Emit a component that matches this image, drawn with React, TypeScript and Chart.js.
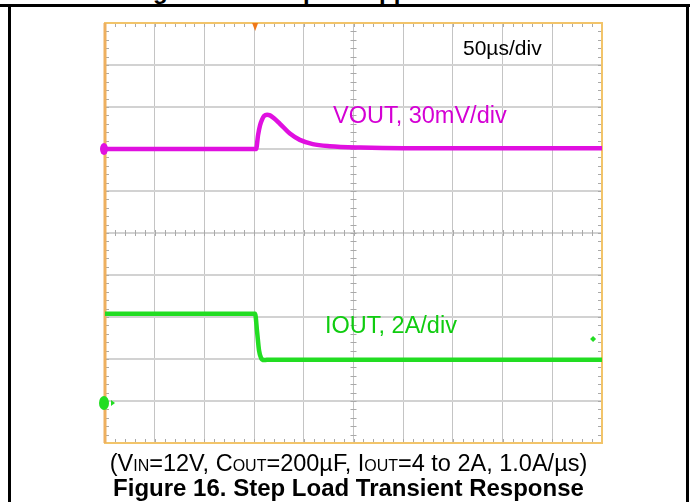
import React, { useEffect, useRef } from "react";
import { Chart, registerables } from "chart.js";

Chart.register(...registerables);

// Time axis: 50 µs/div, 10 divisions
const X_MIN_US = 0;
const X_MAX_US = 500;
const X_STEP_US = 50;

// VOUT deviation (mV), 30 mV/div; zero reference sits 2 div above centre
const VOUT_MIN_MV = -210;
const VOUT_MAX_MV = 90;
const VOUT_STEP_MV = 30;
// IOUT (A), 2 A/div; zero reference sits 4 div below centre
const IOUT_MIN_A = -2;
const IOUT_MAX_A = 18;
const IOUT_STEP_A = 2;

const voutTimeUs = [0, 152, 154, 156, 158, 160, 163, 166, 170, 176, 186, 196, 209, 226, 257, 300, 500];
const voutMv = [0, 0, 10, 17, 21, 23.5, 24.5, 24, 22, 18, 11, 6.5, 3.5, 2, 1, 0.5, 0.5];

const ioutTimeUs = [0, 151, 153, 155, 157, 160, 166, 500];
const ioutA = [4.15, 4.15, 3.3, 2.4, 2.05, 1.95, 1.97, 1.97];

const TRIGGER_US = 151;
const MARKER_US = 491;
const MARKER_A = 2.95;

const VOUT_COLOR = "#e010e0";
const IOUT_COLOR = "#22dd22";

const scopePlugin = {
  id: "scopeDecor",
  beforeDatasetsDraw(chart: any) {
    const { ctx, chartArea } = chart;
    const xs = chart.scales.x;
    const ys = chart.scales.y;
    const { left, right, top, bottom } = chartArea;
    const cx = xs.getPixelForValue((X_MIN_US + X_MAX_US) / 2);
    const cy = ys.getPixelForValue((VOUT_MIN_MV + VOUT_MAX_MV) / 2);
    ctx.save();
    ctx.strokeStyle = "#a9a9a9";
    ctx.lineWidth = 1;
    ctx.beginPath();
    for (let t = X_MIN_US; t <= X_MAX_US; t += X_STEP_US / 5) {
      const px = Math.round(xs.getPixelForValue(t)) + 0.5;
      ctx.moveTo(px, top);
      ctx.lineTo(px, top + 4);
      ctx.moveTo(px, bottom - 4);
      ctx.lineTo(px, bottom);
      ctx.moveTo(px, cy - 3);
      ctx.lineTo(px, cy + 3);
    }
    for (let v = VOUT_MIN_MV; v <= VOUT_MAX_MV; v += VOUT_STEP_MV / 5) {
      const py = Math.round(ys.getPixelForValue(v)) + 0.5;
      ctx.moveTo(left, py);
      ctx.lineTo(left + 4, py);
      ctx.moveTo(right - 4, py);
      ctx.lineTo(right, py);
      ctx.moveTo(cx - 3, py);
      ctx.lineTo(cx + 3, py);
    }
    ctx.stroke();
    // frame
    ctx.strokeStyle = "#f2c46a";
    ctx.lineWidth = 2;
    ctx.strokeRect(left, top, right - left, bottom - top);
    ctx.strokeStyle = "#eeb060";
    ctx.lineWidth = 3;
    ctx.beginPath();
    ctx.moveTo(left, top);
    ctx.lineTo(left, bottom);
    ctx.stroke();
    ctx.restore();
  },
  afterDatasetsDraw(chart: any) {
    const { ctx, chartArea } = chart;
    const xs = chart.scales.x;
    const ys = chart.scales.y;
    const y2 = chart.scales.y2;
    const { left, top } = chartArea;
    ctx.save();
    // trigger marker
    const tx = xs.getPixelForValue(TRIGGER_US);
    ctx.fillStyle = "#f07818";
    ctx.beginPath();
    ctx.moveTo(tx - 3, top);
    ctx.lineTo(tx + 3, top);
    ctx.lineTo(tx, top + 8);
    ctx.closePath();
    ctx.fill();
    // VOUT ground marker
    const vy = ys.getPixelForValue(0);
    ctx.fillStyle = VOUT_COLOR;
    ctx.beginPath();
    ctx.ellipse(left - 1, vy, 4, 6, 0, 0, Math.PI * 2);
    ctx.fill();
    // IOUT ground marker
    const iy = y2.getPixelForValue(0) + 2;
    ctx.fillStyle = IOUT_COLOR;
    ctx.beginPath();
    ctx.ellipse(left - 1, iy, 5, 7, 0, 0, Math.PI * 2);
    ctx.fill();
    ctx.beginPath();
    ctx.moveTo(left + 6, iy - 3);
    ctx.lineTo(left + 10, iy);
    ctx.lineTo(left + 6, iy + 3);
    ctx.closePath();
    ctx.fill();
    // small marker at right
    const mx = xs.getPixelForValue(MARKER_US);
    const my = y2.getPixelForValue(MARKER_A);
    ctx.beginPath();
    ctx.moveTo(mx, my - 3);
    ctx.lineTo(mx + 3, my);
    ctx.lineTo(mx, my + 3);
    ctx.lineTo(mx - 3, my);
    ctx.closePath();
    ctx.fill();
    ctx.restore();
  },
};

const FONT = '"Liberation Sans", Arial, sans-serif';

export default function App() {
  const canvasRef = useRef<HTMLCanvasElement | null>(null);

  useEffect(() => {
    const canvas = canvasRef.current;
    if (!canvas) return;
    const chart = new Chart(canvas, {
      type: "line",
      data: {
        datasets: [
          {
            label: "VOUT",
            data: voutTimeUs.map((t, i) => ({ x: t, y: voutMv[i] })),
            borderColor: VOUT_COLOR,
            borderWidth: 4.5,
            pointRadius: 0,
            cubicInterpolationMode: "monotone",
            yAxisID: "y",
          },
          {
            label: "IOUT",
            data: ioutTimeUs.map((t, i) => ({ x: t, y: ioutA[i] })),
            borderColor: IOUT_COLOR,
            borderWidth: 4.5,
            pointRadius: 0,
            cubicInterpolationMode: "monotone",
            yAxisID: "y2",
          },
        ],
      },
      options: {
        animation: false,
        responsive: false,
        events: [],
        layout: { padding: { left: 105, right: 95, top: 23, bottom: 59 } },
        plugins: { legend: { display: false }, tooltip: { enabled: false } },
        scales: {
          x: {
            type: "linear",
            min: X_MIN_US,
            max: X_MAX_US,
            ticks: { display: false, stepSize: X_STEP_US },
            grid: { color: "#c4c4c4", lineWidth: 1, drawTicks: false },
            border: { display: false },
          },
          y: {
            type: "linear",
            min: VOUT_MIN_MV,
            max: VOUT_MAX_MV,
            ticks: { display: false, stepSize: VOUT_STEP_MV },
            grid: { color: "#d2d2d2", lineWidth: 2, drawTicks: false },
            border: { display: false },
          },
          y2: {
            type: "linear",
            display: false,
            min: IOUT_MIN_A,
            max: IOUT_MAX_A,
            ticks: { stepSize: IOUT_STEP_A },
          },
        },
      },
      plugins: [scopePlugin],
    });
    return () => chart.destroy();
  }, []);

  const abs = (s: React.CSSProperties): React.CSSProperties => ({ position: "absolute", whiteSpace: "nowrap", ...s });

  return (
    <div style={{ position: "absolute", left: 0, top: 0, width: 697, height: 502, background: "#fff", overflow: "hidden", fontFamily: FONT }}>
      {/* cut-off heading from the row above */}
      <div style={abs({ left: 0, top: 0, width: 697, height: 4, overflow: "hidden" })}>
        <span style={abs({ left: 153, top: -21, fontSize: 24, fontWeight: "bold", lineHeight: "24px" })}>g</span>
        <span style={abs({ left: 303, top: -21, fontSize: 24, fontWeight: "bold", lineHeight: "24px" })}>p</span>
        <span style={abs({ left: 379, top: -21, fontSize: 24, fontWeight: "bold", lineHeight: "24px" })}>pp</span>
      </div>
      <div style={abs({ left: 0, top: 4, width: 690, height: 3, background: "#000" })} />
      <div style={abs({ left: 8, top: 4, width: 3, height: 498, background: "#000" })} />
      <div style={abs({ left: 686, top: 4, width: 3, height: 498, background: "#000" })} />
      <canvas ref={canvasRef} width={697} height={502} style={abs({ left: 0, top: 0 })} />
      <div style={abs({ left: 463, top: 35, fontSize: 21, lineHeight: "26px", color: "#000" })}>50µs/div</div>
      <div style={abs({ left: 333, top: 101, fontSize: 23.5, lineHeight: "28px", color: "#d400d4" })}>VOUT, 30mV/div</div>
      <div style={abs({ left: 325, top: 311, fontSize: 23.5, lineHeight: "28px", color: "#10cc10" })}>IOUT, 2A/div</div>
      <div style={abs({ left: 0, width: 697, top: 450, textAlign: "center", fontSize: 23.5, lineHeight: "27px", color: "#000" })}>
        (V<span style={{ fontSize: 16 }}>IN</span>=12V, C<span style={{ fontSize: 16 }}>OUT</span>=200µF, I<span style={{ fontSize: 16 }}>OUT</span>=4 to 2A, 1.0A/µs)
      </div>
      <div style={abs({ left: 0, width: 697, top: 475, textAlign: "center", fontSize: 24, lineHeight: "26px", fontWeight: "bold", color: "#000" })}>
        Figure 16. Step Load Transient Response
      </div>
    </div>
  );
}
